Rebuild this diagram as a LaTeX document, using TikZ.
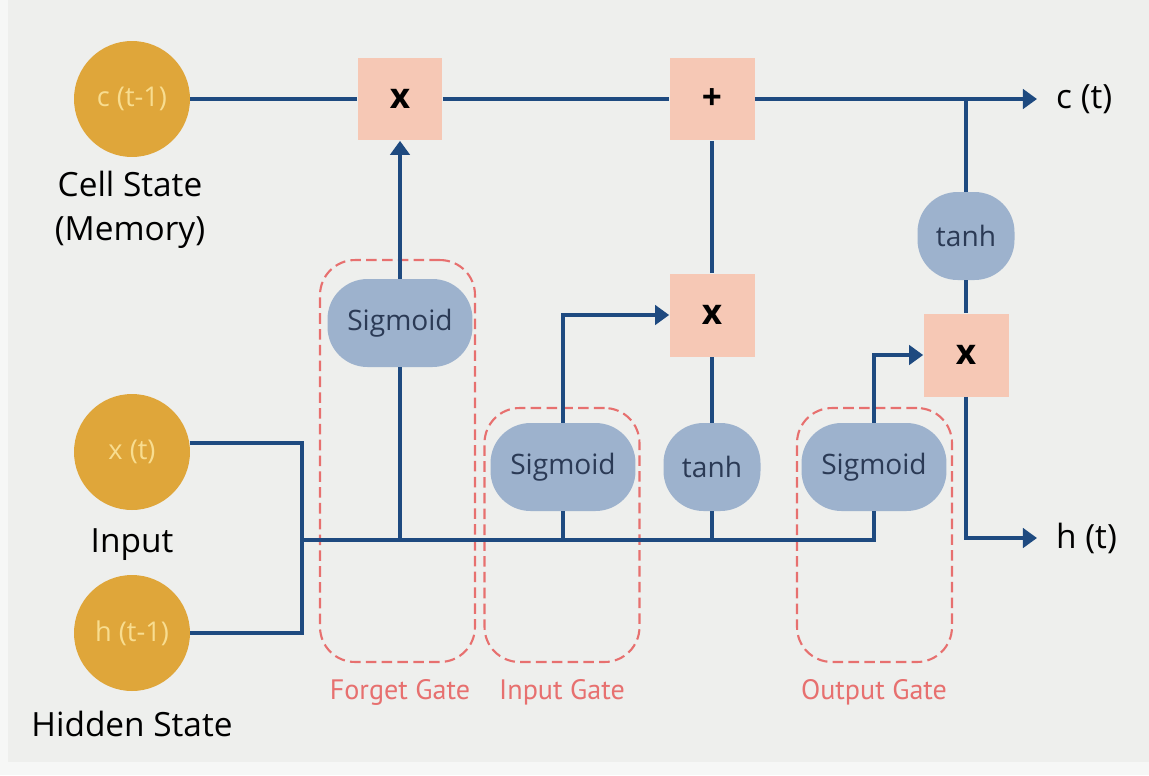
\documentclass[tikz,border=0pt]{standalone}
\usepackage{fontspec}
\setmainfont{Open Sans}
\newfontfamily\gatefont{PT Sans}
\usetikzlibrary{positioning, arrows.meta, calc}

\definecolor{bgcol}{HTML}{EEEFED}
\definecolor{edgecol}{HTML}{F6F7F6}
\definecolor{gold}{HTML}{DFA63A}
\definecolor{paleyellow}{HTML}{F8DD90}
\definecolor{wireblue}{HTML}{1E4A80}
\definecolor{salmon}{HTML}{F6C8B5}
\definecolor{steel}{HTML}{9DB2CD}
\definecolor{navy}{HTML}{2B3A55}
\definecolor{gatered}{HTML}{E7706F}

\begin{document}
\begin{tikzpicture}[
    x = 0.02cm, y = -0.02cm,
    > = {Triangle[length=8pt, width=11pt]},
    wire/.style={draw=wireblue, line width=2.4pt},
    state/.style={circle, fill=gold, minimum size=2.32cm, inner sep=0pt, text=paleyellow, font=\fontsize{15.5}{17}\selectfont},
    caption/.style={align=center, font=\fontsize{19}{25}\selectfont},
    opbox/.style={rectangle, fill=salmon, minimum width=1.7cm, minimum height=1.66cm, font=\bfseries\fontsize{20}{22}\selectfont},
    act/.style={rectangle, rounded corners=0.8cm, fill=steel, minimum width=2.9cm, minimum height=1.76cm, text=navy, font=\fontsize{16}{18}\selectfont},
    gatebox/.style={rectangle, draw=gatered, dash pattern=on 6pt off 3pt, line width=1.2pt, rounded corners=0.7cm, minimum width=3.1cm},
    gatelabel/.style={text=gatered, font=\gatefont\fontsize{16}{18}\selectfont}
]

% --- Background ---
\useasboundingbox (0,0) rectangle (1149,775);
\fill[edgecol] (0,0) rectangle (1149,775);
\fill[bgcol] (8,0) rectangle (1149,762);

% --- Gate frames ---
\node[gatebox, minimum height=8.04cm] (fgate) at (397.5,461) {};
\node[gatebox, minimum height=5.08cm] (igate) at (562,535) {};
\node[gatebox, minimum height=5.08cm] (ogate) at (874.5,535) {};
\node[gatelabel] (flabel) at (400,692) {Forget Gate};
\node[gatelabel] (ilabel) at (562,692) {Input Gate};
\node[gatelabel] (olabel) at (874,692) {Output Gate};

% --- States on the left ---
\node[state] (c0) at (132,99) {c (t-1)};
\node[state] (xt) at (132,452) {x (t)};
\node[state] (ht) at (132,633) {h (t-1)};
\node[caption] (cellcap) at (130,210) {Cell State\\(Memory)};
\node[caption] (inputcap) at (132,545) {Input};
\node[caption] (hiddencap) at (132,724) {Hidden State};

% --- Pointwise operations ---
\node[opbox] (fx) at (400,99) {x};
\node[opbox] (add) at (712,99) {+};
\node[opbox] (ix) at (712,315) {x};
\node[opbox] (ox) at (966,355) {x};

% --- Activations ---
\node[act] (sigf) at (400,323) {Sigmoid};
\node[act] (sigi) at (563,467) {Sigmoid};
\node[act, minimum width=1.94cm] (tanhi) at (712,467) {tanh};
\node[act] (sigo) at (874,467) {Sigmoid};
\node[act, minimum width=1.94cm] (tanhc) at (966,236) {tanh};

% --- Outputs ---
\coordinate (ctend) at (1037,99);
\coordinate (htend) at (1037,538);
\coordinate (cj) at (966,99);
\coordinate (busv) at (302,540);
\node[caption, anchor=west] (ctlabel) at (1050,99) {c (t)};
\node[caption, anchor=west] (htlabel) at (1050,538) {h (t)};

% Cell state line
\draw[wire] (c0) -- (fx);
\draw[wire] (fx) -- (add);
\draw[wire, ->] (add) -- (ctend);

% Inputs into the bus
\draw[wire] (xt.9) -| (busv) |- (ht.east);
\draw[wire] (busv) -| (sigo.south);
\draw[wire] (sigf.south) -- (sigf.south |- busv);
\draw[wire] (sigi.south) -- (sigi.south |- busv);
\draw[wire] (tanhi.south) -- (tanhi.south |- busv);

% Gates
\draw[wire, ->] (sigf) -- (fx);
\draw[wire, ->] (sigi.north) |- (ix.west);
\draw[wire] (tanhi) -- (ix);
\draw[wire] (ix) -- (add);
\draw[wire, ->] (sigo.north) |- (ox.west);

% Hidden output
\draw[wire] (cj) -- (tanhc);
\draw[wire] (tanhc) -- (ox);
\draw[wire, ->] (ox.south) |- (htend);

\end{tikzpicture}
\end{document}
